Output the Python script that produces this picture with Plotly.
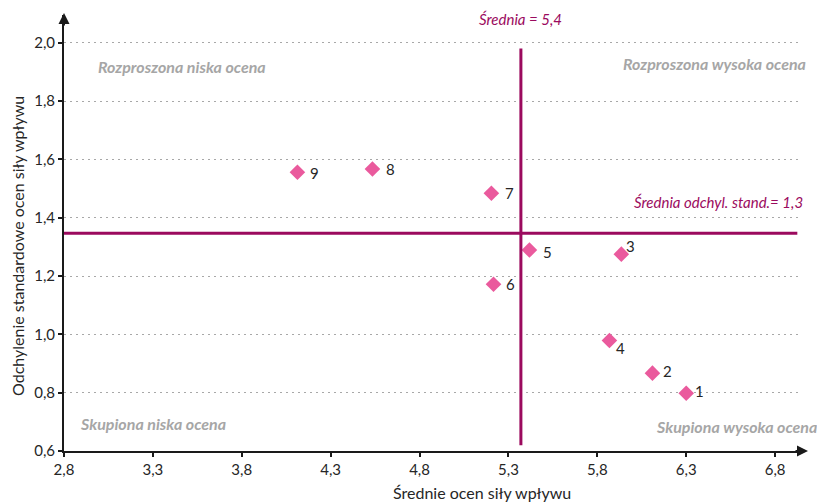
import plotly.graph_objects as go

# Data
labels = ["1", "2", "3", "4", "5", "6", "7", "8", "9"]
mean_rating = [6.30, 6.11, 5.935, 5.868, 5.418, 5.216, 5.204, 4.535, 4.113]
std_rating = [0.798, 0.867, 1.275, 0.979, 1.289, 1.172, 1.484, 1.567, 1.556]
overall_mean = 5.37
overall_std = 1.347
x_ticks = [2.8, 3.3, 3.8, 4.3, 4.8, 5.3, 5.8, 6.3, 6.8]
x_tick_text = ["2,8", "3,3", "3,8", "4,3", "4,8", "5,3", "5,8", "6,3", "6,8"]
y_ticks = [0.6, 0.8, 1.0, 1.2, 1.4, 1.6, 1.8, 2.0]
y_tick_text = ["0,6", "0,8", "1,0", "1,2", "1,4", "1,6", "1,8", "2,0"]
# label offsets in pixels (style)
label_dx = [13, 15, 9, 11, 18, 17, 18, 18, 17]
label_dy = [2, 2, 8, -8, -2, 0, 0, 0, -1]

W, H = 817, 502
L, R, T, B = 64, 17, 15, 51
PW, PH = W - L - R, H - T - B

def px(xp):
    return (xp - L) / PW

def py(yp):
    return (H - B - yp) / PH

FONT = "Lato"
PURPLE = "#9b0a5e"
PINK = "#ea5a9d"
GRAY = "#a6a6a6"
DARK = "#262626"

fig = go.Figure()
fig.add_trace(go.Scatter(
    x=mean_rating, y=std_rating, mode="markers",
    marker=dict(symbol="diamond", size=12, color=PINK),
    hoverinfo="skip", showlegend=False, cliponaxis=False,
))

for lab, xv, yv, dx, dy in zip(labels, mean_rating, std_rating, label_dx, label_dy):
    fig.add_annotation(x=xv, y=yv, text=lab, showarrow=False, xshift=dx, yshift=dy,
                       font=dict(family=FONT, size=15, color=DARK))

# Mean lines
fig.add_shape(type="line", x0=overall_mean, x1=overall_mean, y0=0.62, y1=1.98,
              line=dict(color=PURPLE, width=3), layer="above")
fig.add_shape(type="line", x0=2.8, x1=6.925, y0=overall_std, y1=overall_std,
              line=dict(color=PURPLE, width=3), layer="above")

# Axis arrows
fig.add_annotation(xref="paper", yref="paper", x=px(808), y=0, ax=-14, ay=0,
                   text="", showarrow=True, arrowhead=2, arrowsize=1.1, arrowwidth=2, arrowcolor="#1a1a1a")
fig.add_annotation(xref="paper", yref="paper", x=0, y=py(13), ax=0, ay=14,
                   text="", showarrow=True, arrowhead=2, arrowsize=1.1, arrowwidth=2, arrowcolor="#1a1a1a")

def txt(text, x, y, color, size, bold=False, italic=True, angle=0):
    t = f"<i>{text}</i>" if italic else text
    if bold:
        t = f"<b>{t}</b>"
    fig.add_annotation(xref="paper", yref="paper", x=px(x), y=py(y), text=t, showarrow=False,
                       xanchor="center", yanchor="middle", textangle=angle,
                       font=dict(family=FONT, size=size, color=color))

txt("Rozproszona niska ocena", 182, 66, GRAY, 16, True)
txt("Rozproszona wysoka ocena", 714, 63, GRAY, 16, True)
txt("Skupiona niska ocena", 153, 423, GRAY, 16, True)
txt("Skupiona wysoka ocena", 736, 426, GRAY, 16, True)
txt("Średnia = 5,4", 520, 19, PURPLE, 15)
txt("Średnia odchyl. stand.= 1,3", 718, 202, PURPLE, 15)
txt("Średnie ocen siły wpływu", 482, 492, DARK, 16, italic=False)
txt("Odchylenie standardowe ocen siły wpływu", 17, 246, DARK, 16, italic=False, angle=-90)

fig.update_layout(
    width=W, height=H,
    margin=dict(l=L, r=R, t=T, b=B, autoexpand=False),
    paper_bgcolor="white", plot_bgcolor="white",
    font=dict(family=FONT, size=15, color=DARK),
    xaxis=dict(range=[2.8, 6.94], tickvals=x_ticks, ticktext=x_tick_text, automargin=False,
               showgrid=False, zeroline=False, showline=True, linecolor="#1a1a1a", linewidth=2,
               ticks="outside", ticklen=4, tickwidth=1.5, tickcolor="#1a1a1a",
               tickfont=dict(family=FONT, size=15, color=DARK)),
    yaxis=dict(range=[0.6, 2.095], tickvals=y_ticks, ticktext=y_tick_text, automargin=False,
               showgrid=True, gridcolor="#a8a8a8", griddash="2px,4px", gridwidth=1.2,
               zeroline=False, showline=True, linecolor="#1a1a1a", linewidth=2,
               ticks="outside", ticklen=4, tickwidth=1.5, tickcolor="#1a1a1a",
               tickfont=dict(family=FONT, size=15, color=DARK)),
)

fig.write_html("out.html", config={"displayModeBar": False},
               post_script="document.body.style.margin='0';document.body.style.overflow='hidden';")
